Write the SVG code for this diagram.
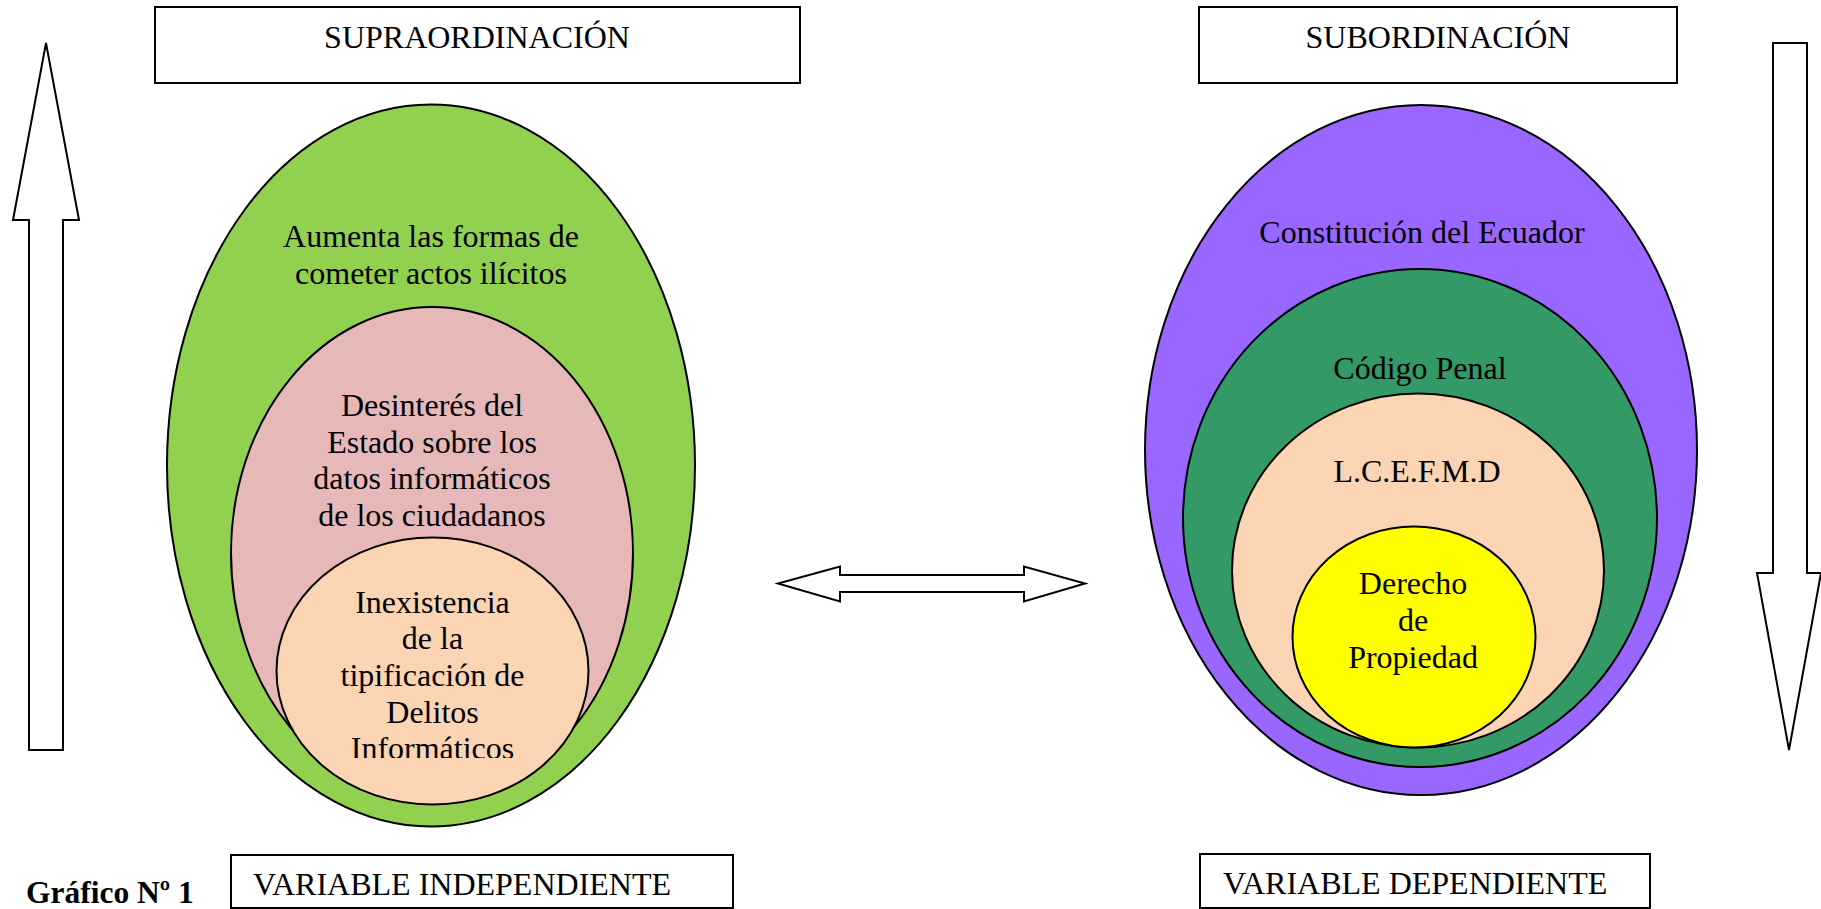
<svg xmlns="http://www.w3.org/2000/svg" width="1821" height="909" viewBox="0 0 1821 909">
  <style>
    text { font-family: "Liberation Serif", "Times New Roman", serif; font-size: 32px; fill: #000; }
    .c { text-anchor: middle; }
    .box { fill: #fff; stroke: #000; stroke-width: 2; }
    .ell { stroke: #000; stroke-width: 2; }
    .arr { fill: #fff; stroke: #000; stroke-width: 2; stroke-linejoin: miter; }
    .bold { font-weight: bold; font-size: 31.5px; }
  </style>
  <defs>
    <clipPath id="clipInex">
      <rect x="260" y="560" width="350" height="198"/>
    </clipPath>
  </defs>
  <rect width="1821" height="909" fill="#fff"/>

  <g id="connectors">
    <path class="arr" d="M46,43 L79,220 L63,220 L63,750 L29,750 L29,220 L13,220 Z"/>
    <path class="arr" d="M1789,750 L1821,573 L1807,573 L1807,43 L1773,43 L1773,573 L1757,573 Z"/>
    <path class="arr" d="M778,583.5 L840,566.5 L840,575 L1024,575 L1024,566.5 L1085,583.5 L1024,601.5 L1024,592 L840,592 L840,601.5 Z"/>
  </g>

  <g id="supraordinacion">
    <rect class="box" x="155" y="7" width="645" height="76"/>
    <text class="c" x="477" y="48">SUPRAORDINACIÓN</text>
  </g>
  <g id="subordinacion">
    <rect class="box" x="1199" y="7" width="478" height="76"/>
    <text class="c" x="1438" y="48">SUBORDINACIÓN</text>
  </g>

  <g id="aumenta">
    <ellipse class="ell" cx="431" cy="465.5" rx="264" ry="361" fill="#92D050"/>
    <text class="c" x="431" y="247">Aumenta las formas de</text>
    <text class="c" x="431" y="283.5">cometer actos ilícitos</text>
  </g>
  <g id="desinteres">
    <ellipse class="ell" cx="432" cy="553" rx="201" ry="246" fill="#E6B8B7"/>
    <text class="c" x="432" y="416">Desinterés del</text>
    <text class="c" x="432" y="452.7">Estado sobre los</text>
    <text class="c" x="432" y="489.3">datos informáticos</text>
    <text class="c" x="432" y="526">de los ciudadanos</text>
  </g>
  <g id="inexistencia">
    <ellipse class="ell" cx="432.5" cy="671" rx="156" ry="133.5" fill="#FBD4B4"/>
    <g clip-path="url(#clipInex)">
      <text class="c" x="432.5" y="612.7">Inexistencia</text>
      <text class="c" x="432.5" y="649.3">de la</text>
      <text class="c" x="432.5" y="686">tipificación de</text>
      <text class="c" x="432.5" y="722.7">Delitos</text>
      <text class="c" x="432.5" y="759.4">Informáticos</text>
    </g>
  </g>

  <g id="constitucion">
    <ellipse class="ell" cx="1421" cy="450" rx="276" ry="345" fill="#9966FF"/>
    <text class="c" x="1422" y="243">Constitución del Ecuador</text>
  </g>
  <g id="codigo-penal">
    <ellipse class="ell" cx="1420" cy="518" rx="237" ry="249" fill="#339966"/>
    <text class="c" x="1420" y="378.5">Código Penal</text>
  </g>
  <g id="lcefmd">
    <ellipse class="ell" cx="1418" cy="570.5" rx="186" ry="177" fill="#FBD4B4"/>
    <text class="c" x="1417" y="482">L.C.E.F.M.D</text>
  </g>
  <g id="derecho">
    <ellipse class="ell" cx="1414" cy="637" rx="121.5" ry="110.5" fill="#FFFF00"/>
    <text class="c" x="1413" y="594">Derecho</text>
    <text class="c" x="1413" y="630.7">de</text>
    <text class="c" x="1413" y="668.3">Propiedad</text>
  </g>

  <g id="grafico">
    <text class="bold" x="26" y="903">Gráfico Nº 1</text>
  </g>
  <g id="variable-independiente">
    <rect class="box" x="231" y="855" width="502" height="53"/>
    <text x="253" y="895">VARIABLE INDEPENDIENTE</text>
  </g>
  <g id="variable-dependiente">
    <rect class="box" x="1200" y="854" width="450" height="54"/>
    <text x="1223" y="894">VARIABLE DEPENDIENTE</text>
  </g>
</svg>
